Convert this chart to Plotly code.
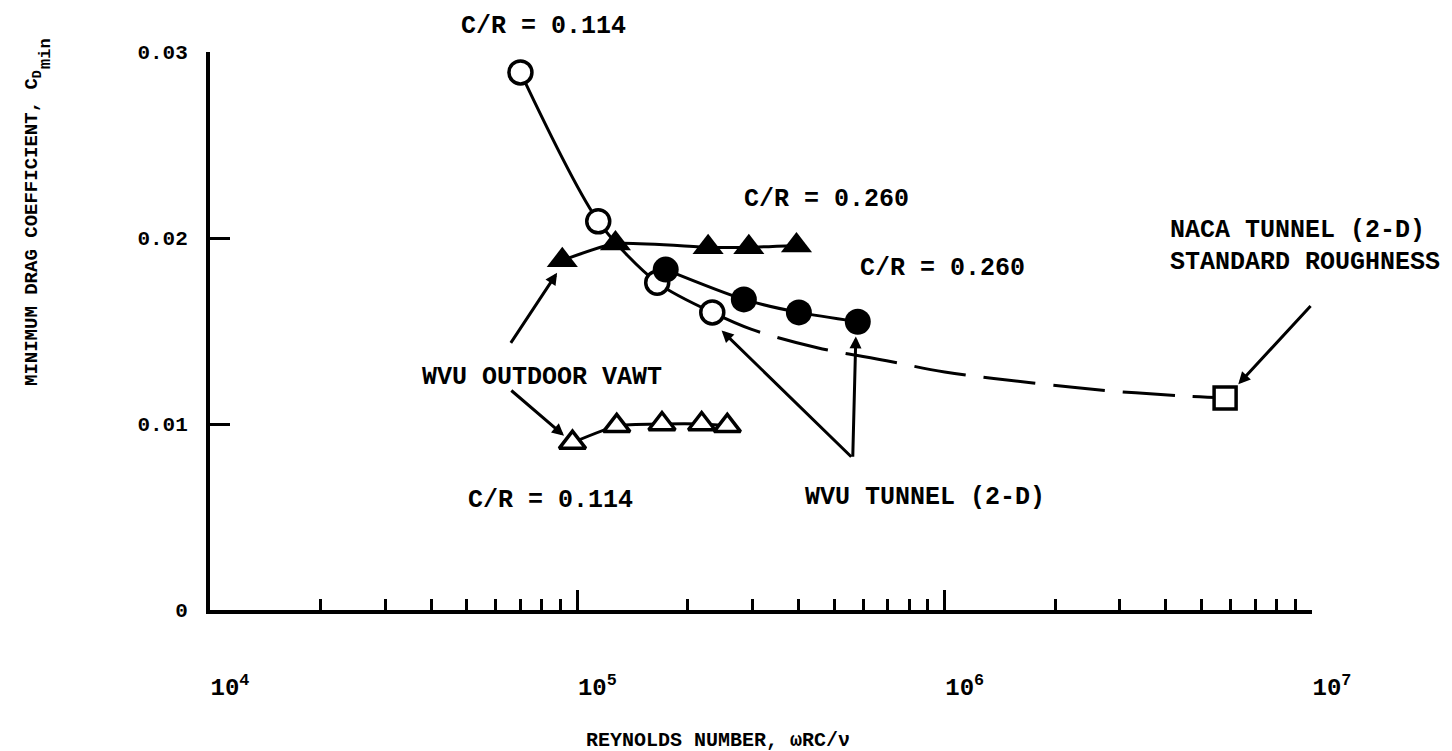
import numpy as np
import plotly.graph_objects as go

# WVU 2-D tunnel, C/R = 0.114 (open circles)
re_tunnel_114 = [7.0e4, 1.14e5, 1.65e5, 2.33e5]
cd_tunnel_114 = [0.0289, 0.0209, 0.0176, 0.0160]

# WVU 2-D tunnel, C/R = 0.260 (filled circles)
re_tunnel_260 = [1.74e5, 2.84e5, 4.01e5, 5.8e5]
cd_tunnel_260 = [0.0183, 0.0167, 0.0160, 0.0155]

# WVU outdoor VAWT, C/R = 0.260 (filled triangles)
re_vawt_260 = [9.1e4, 1.27e5, 2.27e5, 2.93e5, 3.95e5]
cd_vawt_260 = [0.0188, 0.0197, 0.0195, 0.0195, 0.0196]

# WVU outdoor VAWT, C/R = 0.114 (open triangles)
re_vawt_114 = [9.7e4, 1.28e5, 1.70e5, 2.18e5, 2.56e5]
cd_vawt_114 = [0.0090, 0.0099, 0.0100, 0.0100, 0.0099]

# NACA 2-D tunnel, standard roughness
re_naca = [5.8e6]
cd_naca = [0.0114]

# faired dashed curve joining the tunnel data to the NACA point
re_fair = [2.33e5, 2.97e5, 4.5e5, 6.95e5, 1.0e6, 1.74e6, 2.75e6, 4.5e6, 5.8e6]
cd_fair = [0.0160, 0.0151, 0.0141, 0.0134, 0.0128, 0.0122, 0.0118, 0.0115, 0.0114]

# axis ticks
x_major = [1e4, 1e5, 1e6, 1e7]
x_major_text = ["10<sup>4</sup>", "10<sup>5</sup>", "10<sup>6</sup>", "10<sup>7</sup>"]
x_minor = [m * 10 ** e for e in (4, 5, 6) for m in range(2, 10)]
y_ticks = [0, 0.01, 0.02, 0.03]
y_tick_text = ["0", "0.01", "0.02", "0.03"]

W, H = 1452, 751
ML, MR, MT, MB = 210, 140, 52, 141
PW, PH = W - ML - MR, H - MT - MB
FONT = "Liberation Mono"
INK = "black"


def paper_x(px):
    return (px - ML) / PW


def paper_y(py):
    return (H - MB - py) / PH


fig = go.Figure()


def curve(smoothing):
    return dict(color=INK, width=3, shape="spline", smoothing=smoothing)


fig.add_trace(go.Scatter(x=re_fair, y=cd_fair, mode="lines",
                         line=dict(color=INK, width=3, shape="spline", smoothing=1.0,
                                   dash="52px,18px")))
fig.add_trace(go.Scatter(x=re_tunnel_114, y=cd_tunnel_114, mode="lines", line=curve(0.8)))
fig.add_trace(go.Scatter(x=re_tunnel_260, y=cd_tunnel_260, mode="lines", line=curve(0.8)))
fig.add_trace(go.Scatter(x=re_vawt_260, y=cd_vawt_260, mode="lines", line=curve(0.5)))
fig.add_trace(go.Scatter(x=re_vawt_114, y=cd_vawt_114, mode="lines", line=curve(0.5)))

open_mk = dict(color="white", line=dict(color=INK, width=3.5))
fig.add_trace(go.Scatter(x=re_tunnel_114, y=cd_tunnel_114, mode="markers",
                         marker=dict(symbol="circle", size=23, **open_mk)))
fig.add_trace(go.Scatter(x=re_tunnel_260, y=cd_tunnel_260, mode="markers",
                         marker=dict(symbol="circle", size=26, color=INK, line=dict(width=0))))
fig.add_trace(go.Scatter(x=re_vawt_260, y=cd_vawt_260, mode="markers",
                         marker=dict(symbol="triangle-up", size=27, color=INK, line=dict(width=0))))
fig.add_trace(go.Scatter(x=re_vawt_114, y=cd_vawt_114, mode="markers",
                         marker=dict(symbol="triangle-up", size=23, **open_mk)))
fig.add_trace(go.Scatter(x=re_naca, y=cd_naca, mode="markers",
                         marker=dict(symbol="square", size=22, **open_mk)))

txt = dict(family=FONT, size=25, color=INK, weight="bold")
labels = [
    ("C/R = 0.114", 543, 27, "center"),
    ("C/R = 0.260", 826, 200, "center"),
    ("C/R = 0.260", 942, 268, "center"),
    ("NACA TUNNEL (2-D)", 1168, 230, "left"),
    ("STANDARD ROUGHNESS", 1168, 262, "left"),
    ("WVU OUTDOOR VAWT", 420, 377, "left"),
    ("C/R = 0.114", 466, 500, "left"),
    ("WVU TUNNEL (2-D)", 925, 497, "center"),
]
for text, px, py, anchor in labels:
    fig.add_annotation(text=text, x=paper_x(px), y=paper_y(py), xref="paper", yref="paper",
                       xanchor=anchor, yanchor="middle", showarrow=False, font=txt)

# leader arrows: (tail Re, tail Cd, head Re, head Cd)
arrows = [
    (6.55e4, 0.01428, 8.81e4, 0.01813),
    (6.55e4, 0.01187, 9.2e4, 0.00937),
    (5.62e5, 0.00816, 2.47e5, 0.01503),
    (5.62e5, 0.00816, 5.73e5, 0.01471),
    (1.0e7, 0.01642, 6.3e6, 0.01214),
]
for tx, ty, hx, hy in arrows:
    fig.add_annotation(x=np.log10(hx), y=hy, ax=np.log10(tx), ay=ty, xref="x", yref="y",
                       axref="x", ayref="y", text="", showarrow=True, arrowhead=2,
                       arrowsize=0.8, arrowwidth=3, arrowcolor=INK)

# axis titles
title_font = dict(family=FONT, size=20, color=INK, weight="bold")
fig.add_annotation(text="REYNOLDS NUMBER, \u03c9RC/\u03bd", x=paper_x(718), y=paper_y(740),
                   xref="paper", yref="paper", xanchor="center", yanchor="middle",
                   showarrow=False, font=title_font)
fig.add_annotation(text="MINIMUM DRAG COEFFICIENT, C<sub>D</sub>",
                   x=paper_x(33), y=paper_y(228), xref="paper", yref="paper",
                   xanchor="center", yanchor="middle",
                   textangle=-90, showarrow=False, font=dict(title_font, size=19))
fig.add_annotation(text="min", x=paper_x(45), y=paper_y(54), xref="paper", yref="paper",
                   xanchor="center", yanchor="middle",
                   textangle=-90, showarrow=False, font=dict(title_font, size=17))

fig.update_layout(
    width=W, height=H, autosize=False,
    margin=dict(l=ML, r=MR, t=MT, b=MB),
    paper_bgcolor="white", plot_bgcolor="white",
    showlegend=False,
    xaxis=dict(type="log", range=[4, 7], showgrid=False, zeroline=False,
               showline=True, linecolor=INK, linewidth=4,
               tickmode="array", tickvals=x_major, ticktext=x_major_text,
               ticks="inside", ticklen=20, tickwidth=3, tickcolor=INK,
               minor=dict(tickmode="array", tickvals=x_minor, ticks="inside", ticklen=11,
                          tickwidth=3, tickcolor=INK, showgrid=False),
               ticklabelshift=20, ticklabelstandoff=52,
               tickfont=dict(family=FONT, size=24, color=INK, weight="bold")),
    yaxis=dict(range=[0, 0.03], showgrid=False, zeroline=False,
               showline=True, linecolor=INK, linewidth=4,
               tickmode="array", tickvals=y_ticks, ticktext=y_tick_text,
               ticks="inside", ticklen=20, tickwidth=3, tickcolor=INK,
               ticklabelstandoff=14,
               tickfont=dict(family=FONT, size=21, color=INK, weight="bold")),
)

fig.write_html("out.html")
